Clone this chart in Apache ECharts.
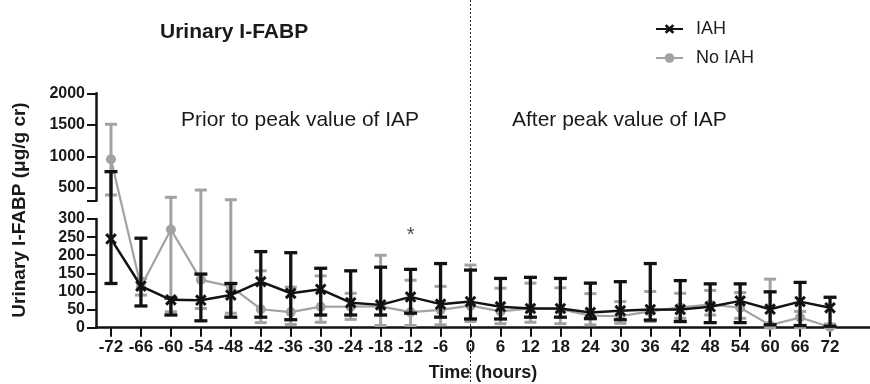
<!DOCTYPE html>
<html>
<head>
<meta charset="utf-8">
<script src="https://cdn.jsdelivr.net/npm/echarts@6/dist/echarts.min.js"></script>
<style>
  html, body { margin: 0; padding: 0; background: #fff; }
  #chart { width: 870px; height: 384px; }
</style>
</head>
<body>
<div id="chart"></div>
<script>
// Sampling times relative to peak IAP (hours)
const hours = [-72, -66, -60, -54, -48, -42, -36, -30, -24, -18, -12, -6, 0,
               6, 12, 18, 24, 30, 36, 42, 48, 54, 60, 66, 72];

// Urinary I-FABP (µg/g cr): central value with lower / upper error limits
const iahMean = [245, 115, 77, 76, 90, 127, 95, 106, 69, 63, 85, 65, 72,
                 58, 53, 53, 42, 47, 50, 50, 58, 74, 51, 72, 55];
const iahLow  = [122, 60, 35, 19, 29, 29, 22, 35, 35, 35, 40, 29, 24,
                 24, 29, 29, 25, 22, 21, 17, 14, 14, 8, 6, 4];
const iahHigh = [760, 247, 82, 148, 122, 210, 207, 164, 157, 167, 161, 177, 159,
                 136, 139, 136, 123, 127, 177, 130, 121, 121, 99, 125, 84];

const noIahMean = [955, 113, 271, 132, 114, 51, 43, 58, 58, 59, 43, 49, 61,
                   45, 53, 51, 33, 32, 45, 56, 64, 55, 7, 28, 2];
const noIahLow  = [390, 90, 44, 53, 40, 14, 9, 15, 23, 6, 6, 8, 17,
                   11, 15, 11, 8, 12, 17, 26, 35, 26, 0, 0, 0];
const noIahHigh = [1510, 136, 354, 469, 315, 157, 112, 143, 95, 200, 131, 114, 173,
                   109, 123, 110, 94, 72, 100, 95, 103, 97, 134, 45, 10];

// Axis ticks
const xTicks = hours.slice();
const upperTickMarks = [300, 500, 1000, 1500, 2000];
const upperTickLabels = [500, 1000, 1500, 2000];

// Significance mark
const starPoint = [[-12, 254]];

const SPLIT = 300; // values above this go to the upper (compressed) panel

const FONT = "'Liberation Sans', Arial, sans-serif";
const BLACK = '#121212';
const GREY = '#a2a2a2';

const chart = echarts.init(document.getElementById('chart'), null, { renderer: 'canvas' });

// Map a (time, value) pair to pixels through whichever panel holds the value
function toPx(x, v) {
  return chart.convertToPixel({ gridIndex: v > SPLIT ? 0 : 1 }, [x, v]);
}

function makeRenderer(means, style) {
  return function (params, api) {
    const i = params.dataIndex;
    const x = api.value(0);
    const c = toPx(x, api.value(1));
    const lo = toPx(x, api.value(2));
    const hi = toPx(x, api.value(3));
    const children = [];
    if (i > 0) {
      const p = toPx(hours[i - 1], means[i - 1]);
      children.push({ type: 'line', shape: { x1: p[0], y1: p[1], x2: c[0], y2: c[1] },
        style: { stroke: style.color, lineWidth: style.lineWidth } });
    }
    const cw = style.capHalf;
    children.push({ type: 'line', shape: { x1: lo[0], y1: lo[1], x2: hi[0], y2: hi[1] },
      style: { stroke: style.color, lineWidth: style.barWidth } });
    children.push({ type: 'line', shape: { x1: lo[0] - cw, y1: lo[1], x2: lo[0] + cw, y2: lo[1] },
      style: { stroke: style.color, lineWidth: style.capWidth } });
    children.push({ type: 'line', shape: { x1: hi[0] - cw, y1: hi[1], x2: hi[0] + cw, y2: hi[1] },
      style: { stroke: style.color, lineWidth: style.capWidth } });
    if (style.marker === 'cross') {
      const s = 4.8;
      children.push({ type: 'line', shape: { x1: c[0] - s, y1: c[1] - s, x2: c[0] + s, y2: c[1] + s },
        style: { stroke: style.color, lineWidth: 3 } });
      children.push({ type: 'line', shape: { x1: c[0] - s, y1: c[1] + s, x2: c[0] + s, y2: c[1] - s },
        style: { stroke: style.color, lineWidth: 3 } });
    } else {
      children.push({ type: 'circle', shape: { cx: c[0], cy: c[1], r: 5 },
        style: { fill: style.color } });
    }
    return { type: 'group', children: children };
  };
}

const crossPath = 'path://M0,2L2,0L5,3L8,0L10,2L7,5L10,8L8,10L5,7L2,10L0,8L3,5Z';
const plain = (v) => String(v);

const option = {
  animation: false,
  backgroundColor: '#fff',
  textStyle: { fontFamily: FONT },
  title: {
    text: 'Urinary I-FABP',
    left: 155, top: 17,
    textStyle: { fontFamily: FONT, fontSize: 21, fontWeight: 'bold', color: '#1a1a1a' }
  },
  legend: {
    orient: 'vertical',
    left: 650, top: 15,
    itemWidth: 27, itemHeight: 12, itemGap: 11,
    data: ['IAH', 'No IAH'],
    textStyle: { fontFamily: FONT, fontSize: 18, color: '#222', padding: [0, 0, 0, 8] }
  },
  grid: [
    { left: 96, right: 0, top: 93.3, height: 107.4 },
    { left: 96, right: 0, top: 219, height: 108.7 }
  ],
  xAxis: [
    { gridIndex: 0, type: 'value', min: -75, max: 80, show: false },
    {
      gridIndex: 1, type: 'value', min: -75, max: 80,
      name: 'Time (hours)', nameLocation: 'middle', nameGap: 36,
      nameTextStyle: { fontFamily: FONT, fontSize: 18, fontWeight: 'bold', color: '#1a1a1a' },
      axisLine: { onZero: false, lineStyle: { color: BLACK, width: 2.5 } },
      axisTick: { customValues: xTicks, length: 9, lineStyle: { color: BLACK, width: 2 } },
      axisLabel: {
        customValues: xTicks, margin: 11, formatter: plain,
        fontFamily: FONT, fontSize: 17, fontWeight: 'bold', color: '#1a1a1a'
      },
      splitLine: { show: false }
    }
  ],
  yAxis: [
    {
      gridIndex: 0, type: 'value', min: 300, max: 2000,
      axisLine: { show: true, onZero: false, lineStyle: { color: BLACK, width: 2.5 } },
      axisTick: { show: true, customValues: upperTickMarks, length: 9, lineStyle: { color: BLACK, width: 2 } },
      axisLabel: { customValues: upperTickLabels, margin: 11, formatter: plain, fontFamily: FONT,
                   fontSize: 16, fontWeight: 'bold', color: '#1a1a1a' },
      splitLine: { show: false }
    },
    {
      gridIndex: 1, type: 'value', min: 0, max: 300, interval: 50,
      axisLine: { show: true, onZero: false, lineStyle: { color: BLACK, width: 2.5 } },
      axisTick: { show: true, length: 9, lineStyle: { color: BLACK, width: 2 } },
      axisLabel: { margin: 11, formatter: plain, fontFamily: FONT, fontSize: 16,
                   fontWeight: 'bold', color: '#1a1a1a' },
      splitLine: { show: false }
    }
  ],
  series: [
    // legend swatches
    { name: 'IAH', type: 'line', xAxisIndex: 1, yAxisIndex: 1, data: [],
      symbol: crossPath, symbolSize: 10,
      itemStyle: { color: BLACK }, lineStyle: { color: BLACK, width: 2.5 } },
    { name: 'No IAH', type: 'line', xAxisIndex: 1, yAxisIndex: 1, data: [],
      symbol: 'circle', symbolSize: 10,
      itemStyle: { color: GREY }, lineStyle: { color: GREY, width: 2.5 } },
    {
      name: 'No IAH', type: 'custom', xAxisIndex: 1, yAxisIndex: 1, clip: false,
      data: hours.map((h, i) => [h, noIahMean[i], noIahLow[i], noIahHigh[i]]),
      renderItem: makeRenderer(noIahMean, { color: GREY, lineWidth: 2.2, barWidth: 3,
        capWidth: 3, capHalf: 6, marker: 'circle' })
    },
    {
      name: 'IAH', type: 'custom', xAxisIndex: 1, yAxisIndex: 1, clip: false,
      data: hours.map((h, i) => [h, iahMean[i], iahLow[i], iahHigh[i]]),
      renderItem: makeRenderer(iahMean, { color: BLACK, lineWidth: 2.5, barWidth: 3.3,
        capWidth: 3.3, capHalf: 6.5, marker: 'cross' })
    },
    {
      type: 'scatter', xAxisIndex: 1, yAxisIndex: 1, data: starPoint,
      symbolSize: 0, silent: true,
      label: { show: true, position: 'inside', formatter: '*', fontFamily: FONT,
               fontSize: 20, color: '#1a1a1a' }
    }
  ]
};

chart.setOption(option);

// Peak-IAP divider and panel annotations
const x0 = chart.convertToPixel({ gridIndex: 1 }, [0, 0])[0];
chart.setOption({
  graphic: [
    { type: 'line', z: 1, shape: { x1: x0, y1: 0, x2: x0, y2: 384 },
      style: { stroke: '#222', lineWidth: 1, lineDash: [2, 2] } },
    { type: 'text', x: 181, y: 120,
      style: { text: 'Prior to peak value of IAP', font: '21px ' + FONT, fill: '#1a1a1a',
               textVerticalAlign: 'middle' } },
    { type: 'text', x: 512, y: 120,
      style: { text: 'After peak value of IAP', font: '21px ' + FONT, fill: '#1a1a1a',
               textVerticalAlign: 'middle' } },
    { type: 'text', x: 20, y: 210, rotation: Math.PI / 2,
      style: { text: 'Urinary I-FABP (\u03bcg/g cr)', font: 'bold 19px ' + FONT, fill: '#1a1a1a',
               textAlign: 'center', textVerticalAlign: 'middle' } }
  ]
});
</script>
</body>
</html>
